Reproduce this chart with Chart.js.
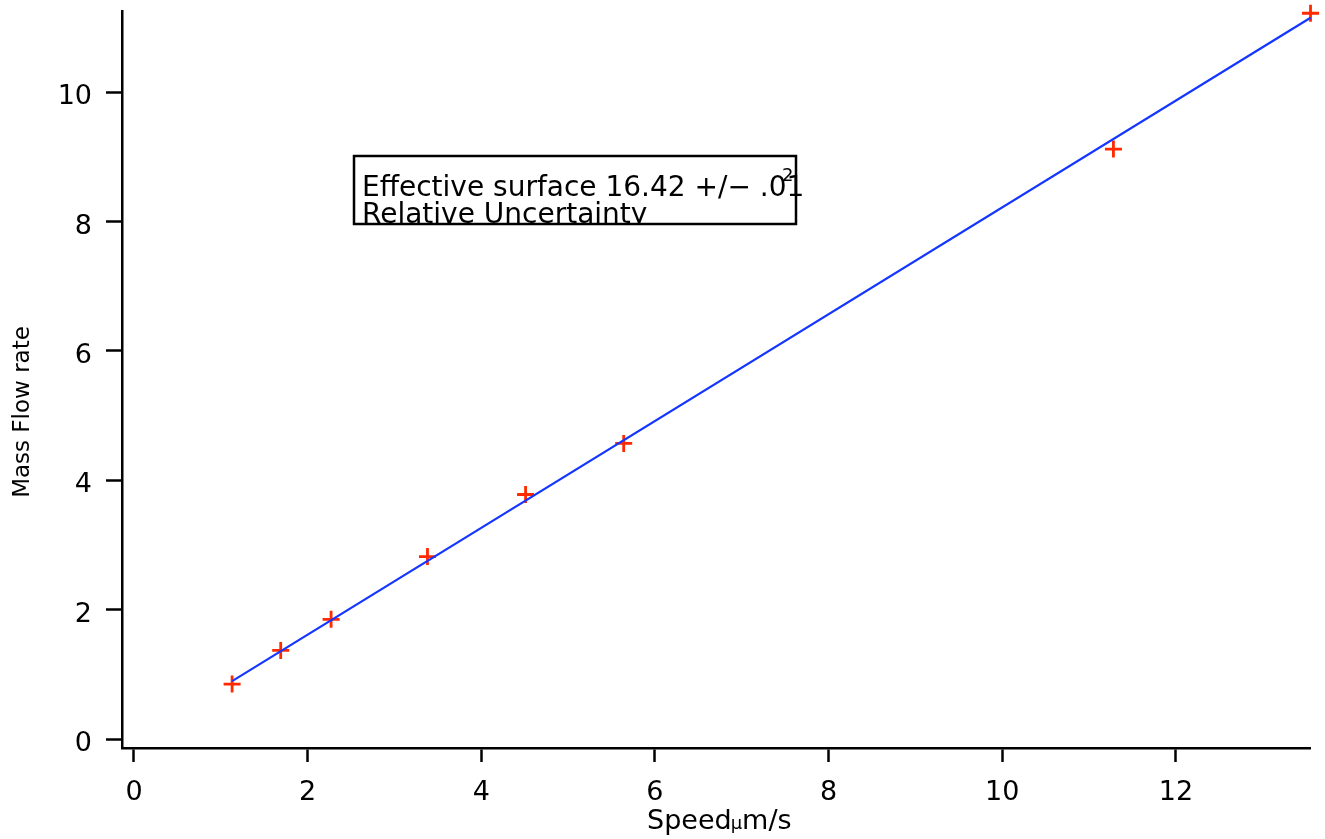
<!DOCTYPE html>
<html>
<head>
<meta charset="utf-8">
<script src="https://cdn.jsdelivr.net/npm/chart.js@4"></script>
<style>
  body { margin: 0; background: #fff; }
  #wrap { width: 1325px; height: 839px; position: relative; }
</style>
</head>
<body>
<div id="wrap"><canvas id="chart"></canvas></div>
<script>
// measured points (speed vs mass flow rate)
const speed = [1.13, 1.69, 2.27, 3.38, 4.51, 5.64, 11.28, 13.55];
const massFlow = [0.85, 1.37, 1.85, 2.82, 3.78, 4.57, 9.12, 11.22];

// fitted line, end points
const fitX = [1.13, 13.55];
const fitY = [0.895, 11.15];

const xTicks = [0, 2, 4, 6, 8, 10, 12];
const yTicks = [0, 2, 4, 6, 8, 10];

const FONT = 'DejaVu Sans';

// axis titles and the fit result box
const annotations = {
    id: 'annotations',
    afterDraw(chart) {
        const ctx = chart.ctx;
        ctx.save();
        ctx.fillStyle = '#000';
        ctx.textBaseline = 'alphabetic';

        // y title
        ctx.save();
        ctx.translate(29, 412);
        ctx.rotate(-Math.PI / 2);
        ctx.textAlign = 'center';
        ctx.font = '23px ' + FONT;
        ctx.fillText('Mass Flow rate', 0, 0);
        ctx.restore();

        // x title: Speed, small mu, m/s
        ctx.textAlign = 'left';
        let x = 647;
        ctx.font = '27px ' + FONT;
        ctx.fillText('Speed', x, 829);
        x += ctx.measureText('Speed').width;
        ctx.font = '18px ' + FONT;
        ctx.fillText('\u03bc', x - 1, 829);
        x += ctx.measureText('\u03bc').width - 1;
        ctx.font = '27px ' + FONT;
        ctx.fillText('m/s', x, 829);

        // text box
        const bx = 354, by = 156, bw = 442, bh = 68;
        ctx.save();
        ctx.beginPath();
        ctx.rect(bx, by, bw + 20, bh);
        ctx.clip();
        ctx.font = '28px ' + FONT;
        ctx.fillText('Effective surface 16.42 +/\u2212 .01', 362, 196);
        ctx.fillText('Relative Uncertainty', 362, 223);
        ctx.restore();
        ctx.font = '18px ' + FONT;
        ctx.fillText('2', 782, 181);
        ctx.lineWidth = 2.5;
        ctx.strokeStyle = '#000';
        ctx.strokeRect(bx, by, bw, bh);
        ctx.restore();
    }
};

new Chart(document.getElementById('chart'), {
    type: 'scatter',
    data: {
        datasets: [
            {
                label: 'fit',
                data: fitX.map((x, i) => ({ x: x, y: fitY[i] })),
                showLine: true,
                borderColor: '#1436ff',
                borderWidth: 2.2,
                pointRadius: 0,
                clip: false
            },
            {
                label: 'data',
                data: speed.map((x, i) => ({ x: x, y: massFlow[i] })),
                pointStyle: 'cross',
                pointRadius: 8.5,
                borderColor: '#ff2a00',
                borderWidth: 2.8,
                clip: false
            }
        ]
    },
    options: {
        responsive: true,
        maintainAspectRatio: false,
        animation: false,
        devicePixelRatio: 1,
        layout: { padding: { left: 0, top: 10, right: 15, bottom: 0 } },
        plugins: {
            legend: { display: false },
            tooltip: { enabled: false }
        },
        scales: {
            x: {
                type: 'linear',
                min: -0.138,
                max: 13.544,
                afterBuildTicks: s => { s.ticks = xTicks.map(v => ({ value: v })); },
                afterFit: s => { s.height = 91; s.paddingLeft = 0; s.paddingRight = 0; },
                border: { display: true, color: '#000', width: 2.5 },
                grid: { drawOnChartArea: false, drawTicks: true, tickLength: 14, tickWidth: 2.5, tickColor: '#000' },
                ticks: { color: '#000', padding: 15, maxRotation: 0, font: { family: FONT, size: 27 } }
            },
            y: {
                type: 'linear',
                min: -0.139,
                max: 11.25,
                afterBuildTicks: s => { s.ticks = yTicks.map(v => ({ value: v })); },
                afterFit: s => { s.width = 122; s.paddingTop = 0; s.paddingBottom = 0; },
                border: { display: true, color: '#000', width: 2.5 },
                grid: { drawOnChartArea: false, drawTicks: true, tickLength: 16, tickWidth: 2.5, tickColor: '#000' },
                ticks: { color: '#000', padding: 14, labelOffset: 5, font: { family: FONT, size: 27 } }
            }
        }
    },
    plugins: [annotations]
});
</script>
</body>
</html>
